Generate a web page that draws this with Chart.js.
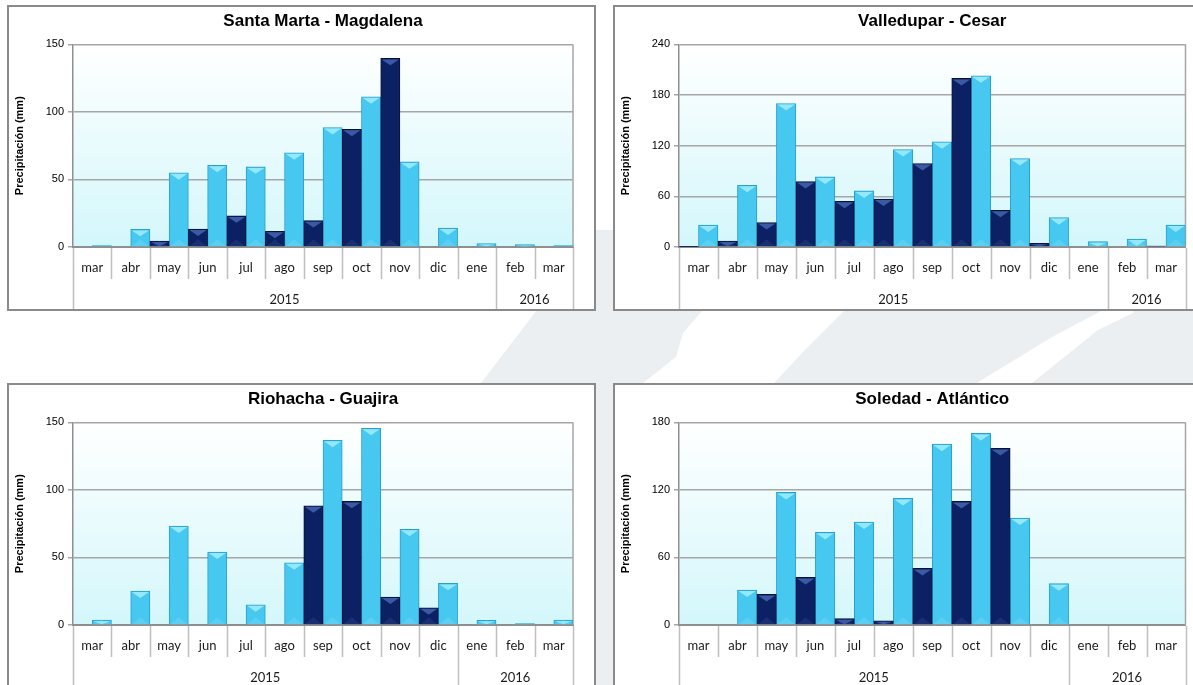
<!DOCTYPE html>
<html>
<head>
<meta charset="utf-8">
<script src="https://cdn.jsdelivr.net/npm/chart.js@4.4.0/dist/chart.umd.min.js"></script>
<style>
  html, body { margin: 0; padding: 0; background: #fff; }
  body { width: 1193px; height: 685px; position: relative; overflow: hidden; }
  #bg { position: absolute; left: 0; top: 0; }
  .box { position: absolute; border: 2px solid #8a8a8a; background: #fff; box-sizing: border-box; }
  .box canvas { display: block; }
</style>
</head>
<body>
<svg id="bg" width="1193" height="685">
  <polygon points="545,295 706,295 703,310 683,333 676,357 643,383 481,383 537,310" fill="#ebeff2"/>
  <polygon points="848,295 1110,295 1103,310 1052,337 977,383 774,383 805,350 845,310" fill="#ebeff2"/>
  <polygon points="1140,295 1193,295 1193,383 1032,383 1098,330 1133,313" fill="#ebeff2"/>
  <polygon points="594,230 614,230 614,685 594,685" fill="#ebeff2"/>
</svg>

<div class="box" style="left:7px;top:5px;width:589px;height:306px"><canvas id="c1" width="585" height="302"></canvas></div>
<div class="box" style="left:613px;top:5px;width:595px;height:306px"><canvas id="c2" width="591" height="302"></canvas></div>
<div class="box" style="left:7px;top:383px;width:589px;height:306px"><canvas id="c3" width="585" height="302"></canvas></div>
<div class="box" style="left:613px;top:383px;width:595px;height:306px"><canvas id="c4" width="591" height="302"></canvas></div>

<script>
// Categories (months March 2015 - March 2016)
const months = ['mar', 'abr', 'may', 'jun', 'jul', 'ago', 'sep', 'oct', 'nov', 'dic', 'ene', 'feb', 'mar'];
const years = ['2015', '2016'];

const titles = ['Santa Marta - Magdalena', 'Valledupar - Cesar', 'Riohacha - Guajira', 'Soledad - Atlántico'];
const yearSpans = [[11, 2], [11, 2], [10, 3], [10, 3]];

// Y axis ticks per chart
const yMax = [150, 240, 150, 180];
const yStep = [50, 60, 50, 60];

// Precipitation (mm): dark bars = observed, light bars = historical mean
const santaMartaObs = [0, 0, 4.4, 13.3, 23, 11.6, 19.5, 87.2, 139.6, 0, 0, 0, 0];
const santaMartaMean = [1, 13, 54.9, 60.5, 59.3, 69.7, 88.5, 111.2, 63, 14, 2.5, 1.7, 1];
const valleduparObs = [0.5, 7.1, 28.9, 77.5, 54.2, 56.9, 98.9, 199.7, 43.5, 4.3, 0, 0, 1.2];
const valleduparMean = [26.1, 73.2, 170, 83, 66.4, 115.5, 124.6, 202.8, 104.8, 34.8, 6.3, 9.5, 26.1];
const riohachaObs = [0, 0, 0, 0, 0, 0, 88.3, 91.5, 20.7, 12.8, 0, 0, 0];
const riohachaMean = [3.7, 25.2, 73.3, 54, 15, 46.1, 136.7, 145.6, 70.8, 30.8, 3.5, 1, 3.7];
const soledadObs = [0, 0, 27.2, 42.3, 5.6, 3.8, 50.3, 109.8, 156.9, 0, 0, 0, 0];
const soledadMean = [0, 31.1, 117.8, 82.3, 91.5, 112.5, 160.7, 170.2, 95, 36.7, 0, 0, 0];

const observed = [santaMartaObs, valleduparObs, riohachaObs, soledadObs];
const means = [santaMartaMean, valleduparMean, riohachaMean, soledadMean];

const monthFont = { family: 'Lato, "Open Sans", sans-serif', size: 13 };

// Plot area gradient + right border
const plotBackground = {
    id: 'plotBackground',
    beforeDraw(chart) {
        const { ctx, chartArea: a } = chart;
        const g = ctx.createLinearGradient(0, a.top, 0, a.bottom);
        g.addColorStop(0, '#ffffff');
        g.addColorStop(1, '#d3f7fb');
        ctx.save();
        ctx.fillStyle = g;
        ctx.fillRect(a.left, a.top, a.right - a.left, a.bottom - a.top);
        ctx.restore();
    },
    beforeDatasetsDraw(chart) {
        const { ctx, chartArea: a } = chart;
        ctx.save();
        ctx.strokeStyle = '#a6a6a6';
        ctx.lineWidth = 1.5;
        ctx.beginPath();
        ctx.moveTo(a.right, a.top);
        ctx.lineTo(a.right, a.bottom);
        ctx.stroke();
        ctx.restore();
    }
};

// Bevel triangles on top of each bar
const bevel = {
    id: 'bevel',
    afterDatasetsDraw(chart) {
        const ctx = chart.ctx;
        chart.data.datasets.forEach((ds, di) => {
            const meta = chart.getDatasetMeta(di);
            meta.data.forEach(bar => {
                const h = bar.base - bar.y;
                if (h < 1) return;
                const left = bar.x - bar.width / 2 + 1;
                const right = bar.x + bar.width / 2 - 1;
                const th = Math.min(bar.width * 0.36, h);
                ctx.save();
                ctx.fillStyle = ds.bevelColor;
                ctx.beginPath();
                ctx.moveTo(left, bar.y + 1);
                ctx.lineTo(right, bar.y + 1);
                ctx.lineTo(bar.x, bar.y + th);
                ctx.closePath();
                ctx.fill();
                ctx.globalAlpha = 0.25;
                ctx.beginPath();
                ctx.moveTo(left, bar.base);
                ctx.lineTo(right, bar.base);
                ctx.lineTo(bar.x, bar.base - th);
                ctx.closePath();
                ctx.fill();
                ctx.restore();
            });
        });
    }
};

// Month separators and year row under the x axis
const yearAxis = {
    id: 'yearAxis',
    afterDraw(chart, args, opts) {
        const { ctx, chartArea: a } = chart;
        const x = chart.scales.x;
        const n = months.length;
        const w = (x.right - x.left) / n;
        const bottom = chart.height;
        const bounds = [0];
        opts.spans.forEach(s => bounds.push(bounds[bounds.length - 1] + s));
        ctx.save();
        ctx.strokeStyle = '#bfbfbf';
        ctx.lineWidth = 1.5;
        for (let i = 0; i <= n; i++) {
            const px = Math.round(x.left + i * w) + 0.5;
            const isYear = bounds.includes(i);
            ctx.beginPath();
            ctx.moveTo(px, a.bottom + 1);
            ctx.lineTo(px, isYear ? bottom : a.bottom + 32);
            ctx.stroke();
        }
        ctx.fillStyle = '#1a1a1a';
        ctx.font = monthFont.size + 'px ' + monthFont.family;
        ctx.textAlign = 'center';
        ctx.textBaseline = 'middle';
        for (let k = 0; k < years.length; k++) {
            const cx = x.left + (bounds[k] + bounds[k + 1]) / 2 * w;
            ctx.fillText(years[k], cx, a.bottom + 53);
        }
        ctx.restore();
    }
};

function makeChart(id, idx, padRight) {
    return new Chart(document.getElementById(id), {
        type: 'bar',
        data: {
            labels: months,
            datasets: [{
                label: 'Observado',
                data: observed[idx],
                backgroundColor: '#0c2163',
                borderColor: '#06113a',
                bevelColor: '#3a5aa3',
                borderWidth: 1,
                borderSkipped: 'bottom'
            }, {
                label: 'Promedio',
                data: means[idx],
                backgroundColor: '#46c8f0',
                borderColor: '#2a9fd0',
                bevelColor: '#93e8fb',
                borderWidth: 1,
                borderSkipped: 'bottom'
            }]
        },
        options: {
            responsive: false,
            animation: false,
            layout: { padding: { left: 0, right: padRight, top: 0, bottom: 0 } },
            datasets: { bar: { categoryPercentage: 1, barPercentage: 1 } },
            plugins: {
                legend: { display: false },
                tooltip: { enabled: false },
                title: {
                    display: true,
                    text: titles[idx],
                    fullSize: false,
                    color: '#000',
                    font: { family: '"Liberation Sans", Arial, sans-serif', size: 17, weight: 'bold' },
                    padding: { top: 4, bottom: 13 }
                },
                yearAxis: { spans: yearSpans[idx] }
            },
            scales: {
                x: {
                    offset: true,
                    grid: { display: false, drawTicks: false },
                    border: { display: true, color: '#8f8f8f', width: 2 },
                    ticks: { color: '#1a1a1a', font: monthFont, padding: 13, maxRotation: 0, autoSkip: false },
                    afterFit(scale) { scale.height = 62; }
                },
                y: {
                    min: 0,
                    max: yMax[idx],
                    ticks: {
                        stepSize: yStep[idx],
                        color: '#000',
                        padding: 4,
                        font: { family: '"Liberation Sans", Arial, sans-serif', size: 11 }
                    },
                    grid: { color: '#a6a6a6', lineWidth: 1.5, tickLength: 5 },
                    border: { color: '#8f8f8f', width: 1.5 },
                    title: {
                        display: true,
                        text: 'Precipitación (mm)',
                        color: '#000',
                        font: { family: '"Liberation Sans", Arial, sans-serif', size: 11, weight: 'bold' },
                        padding: { top: 4, bottom: 0 }
                    },
                    afterFit(scale) { scale.width = 64; }
                }
            }
        },
        plugins: [plotBackground, bevel, yearAxis]
    });
}

makeChart('c1', 0, 21);
makeChart('c2', 1, 20.5);
makeChart('c3', 2, 21);
makeChart('c4', 3, 20.5);
</script>
</body>
</html>
